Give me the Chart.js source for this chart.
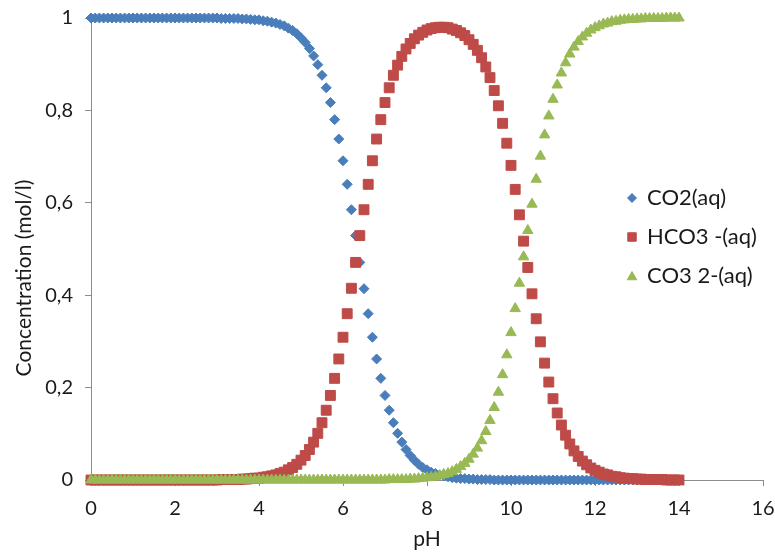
<!DOCTYPE html>
<html>
<head>
<meta charset="utf-8">
<script src="https://cdn.jsdelivr.net/npm/chart.js@4.4.1/dist/chart.umd.min.js"></script>
<style>
  html, body { margin: 0; padding: 0; background: #ffffff; }
  #wrap { width: 775px; height: 552px; }
</style>
</head>
<body>
<div id="wrap"><canvas id="c" width="775" height="552"></canvas></div>
<script>
// pH categories (x values)
const pH = [
  0.0,0.1,0.2,0.3,0.4,0.5,0.6,0.7,0.8,0.9,
  1.0,1.1,1.2,1.3,1.4,1.5,1.6,1.7,1.8,1.9,
  2.0,2.1,2.2,2.3,2.4,2.5,2.6,2.7,2.8,2.9,
  3.0,3.1,3.2,3.3,3.4,3.5,3.6,3.7,3.8,3.9,
  4.0,4.1,4.2,4.3,4.4,4.5,4.6,4.7,4.8,4.9,
  5.0,5.1,5.2,5.3,5.4,5.5,5.6,5.7,5.8,5.9,
  6.0,6.1,6.2,6.3,6.4,6.5,6.6,6.7,6.8,6.9,
  7.0,7.1,7.2,7.3,7.4,7.5,7.6,7.7,7.8,7.9,
  8.0,8.1,8.2,8.3,8.4,8.5,8.6,8.7,8.8,8.9,
  9.0,9.1,9.2,9.3,9.4,9.5,9.6,9.7,9.8,9.9,
  10.0,10.1,10.2,10.3,10.4,10.5,10.6,10.7,10.8,10.9,
  11.0,11.1,11.2,11.3,11.4,11.5,11.6,11.7,11.8,11.9,
  12.0,12.1,12.2,12.3,12.4,12.5,12.6,12.7,12.8,12.9,
  13.0,13.1,13.2,13.3,13.4,13.5,13.6,13.7,13.8,13.9,
  14.0
];

// CO2(aq) concentration
const co2 = [
  1,1,1,1,1,1,1,1,1,1,
  1,1,1,1,1,1,1,1,1,1,
  1,1,1,1,1,1,1,1,1,1,
  1,0.999,0.999,0.999,0.999,0.999,0.998,0.998,0.997,0.996,
  0.996,0.994,0.993,0.991,0.989,0.986,0.983,0.978,0.973,0.966,
  0.957,0.947,0.934,0.918,0.899,0.876,0.849,0.817,0.780,0.738,
  0.691,0.640,0.585,0.529,0.471,0.414,0.360,0.309,0.262,0.220,
  0.183,0.151,0.124,0.101,0.082,0.066,0.053,0.043,0.034,0.027,
  0.022,0.017,0.014,0.011,0.009,0.007,0.005,0.004,0.003,0.003,
  0.002,0.002,0.001,0.001,0.001,0.001,0,0,0,0,
  0,0,0,0,0,0,0,0,0,0,
  0,0,0,0,0,0,0,0,0,0,
  0,0,0,0,0,0,0,0,0,0,
  0,0,0,0,0,0,0,0,0,0,
  0
];

// HCO3 -(aq) concentration
const hco3 = [
  0,0,0,0,0,0,0,0,0,0,
  0,0,0,0,0,0,0,0,0,0,
  0,0,0,0,0,0,0,0,0,0,
  0,0.001,0.001,0.001,0.001,0.001,0.002,0.002,0.003,0.004,
  0.004,0.006,0.007,0.009,0.011,0.014,0.017,0.022,0.027,0.034,
  0.043,0.053,0.066,0.082,0.101,0.124,0.151,0.183,0.220,0.262,
  0.309,0.360,0.415,0.471,0.529,0.585,0.640,0.691,0.738,0.780,
  0.817,0.849,0.876,0.898,0.917,0.933,0.945,0.955,0.963,0.969,
  0.974,0.977,0.979,0.980,0.980,0.979,0.976,0.973,0.968,0.962,
  0.953,0.943,0.930,0.914,0.894,0.871,0.843,0.810,0.772,0.729,
  0.681,0.629,0.574,0.517,0.460,0.403,0.349,0.299,0.253,0.212,
  0.176,0.145,0.119,0.097,0.078,0.063,0.051,0.041,0.033,0.026,
  0.021,0.017,0.013,0.011,0.008,0.007,0.005,0.004,0.003,0.003,
  0.002,0.002,0.001,0.001,0.001,0.001,0.001,0,0,0,
  0
];

// CO3 2-(aq) concentration
const co3 = [
  0,0,0,0,0,0,0,0,0,0,
  0,0,0,0,0,0,0,0,0,0,
  0,0,0,0,0,0,0,0,0,0,
  0,0,0,0,0,0,0,0,0,0,
  0,0,0,0,0,0,0,0,0,0,
  0,0,0,0,0,0,0,0,0,0,
  0,0,0,0,0,0,0,0,0,0,
  0,0.001,0.001,0.001,0.001,0.001,0.002,0.002,0.003,0.004,
  0.005,0.006,0.007,0.009,0.012,0.014,0.018,0.023,0.029,0.036,
  0.045,0.056,0.069,0.085,0.105,0.129,0.157,0.190,0.228,0.271,
  0.319,0.371,0.426,0.483,0.540,0.597,0.651,0.701,0.747,0.788,
  0.824,0.855,0.881,0.903,0.922,0.937,0.949,0.959,0.967,0.974,
  0.979,0.983,0.987,0.989,0.992,0.993,0.995,0.996,0.997,0.997,
  0.998,0.998,0.999,0.999,0.999,0.999,0.999,1,1,1,
  1
];

const seriesNames = ['CO2(aq)', 'HCO3 -(aq)', 'CO3 2-(aq)'];
const xTitle = 'pH';
const yTitle = 'Concentration (mol/l)';

const FONT = 'Lato, "Liberation Sans", sans-serif';
const TEXT = '#1a1a1a';
const AXIS = '#8c8c8c';

const toPts = arr => pH.map((x, i) => ({ x: x, y: arr[i] }));

const datasets = [
  { label: seriesNames[0], data: toPts(co2), pointStyle: 'rectRot', pointRadius: 5, legendRadius: 4.5,
    backgroundColor: '#4A7EBB', borderColor: '#4A7EBB', order: 3 },
  { label: seriesNames[1], data: toPts(hco3), pointStyle: 'rect', pointRadius: 7, legendRadius: 6,
    backgroundColor: '#BE4B48', borderColor: '#BE4B48', order: 2 },
  { label: seriesNames[2], data: toPts(co3), pointStyle: 'triangle', pointRadius: 6, legendRadius: 5.5,
    backgroundColor: '#98B954', borderColor: '#98B954', order: 1 }
].map(d => Object.assign(d, { showLine: false, pointBorderWidth: 1, pointHoverRadius: d.pointRadius, clip: false }));

// legend drawn inside the plot area, plus rotated y-axis title
const legendPlugin = {
  id: 'legendPlugin',
  afterDraw(chart) {
    const ctx = chart.ctx;
    const rows = [198, 237, 276];
    chart.data.datasets.forEach((ds, i) => {
      ctx.save();
      ctx.fillStyle = ds.backgroundColor;
      ctx.strokeStyle = ds.borderColor;
      ctx.lineWidth = 1;
      Chart.helpers.drawPoint(ctx, { pointStyle: ds.pointStyle, radius: ds.legendRadius, borderWidth: 1, rotation: 0 },
        632, rows[i] + (ds.pointStyle === 'triangle' ? 1 : 0));
      ctx.restore();
      ctx.save();
      ctx.fillStyle = TEXT;
      ctx.font = '22px ' + FONT;
      ctx.textAlign = 'left';
      ctx.textBaseline = 'middle';
      ctx.fillText(ds.label, 647, rows[i]);
      ctx.restore();
    });
    ctx.save();
    ctx.fillStyle = TEXT;
    ctx.font = '21px ' + FONT;
    ctx.textAlign = 'center';
    ctx.textBaseline = 'middle';
    ctx.translate(24, 278);
    ctx.rotate(-Math.PI / 2);
    ctx.fillText(yTitle, 0, 0);
    ctx.restore();
  }
};

new Chart(document.getElementById('c'), {
  type: 'scatter',
  data: { datasets: datasets },
  plugins: [legendPlugin],
  options: {
    responsive: false,
    animation: false,
    events: [],
    layout: { padding: { top: 18, right: 12, left: 0, bottom: 0 } },
    plugins: {
      legend: { display: false },
      tooltip: { enabled: false },
      title: { display: false }
    },
    scales: {
      x: {
        type: 'linear',
        min: 0, max: 16,
        ticks: { stepSize: 2, color: TEXT, font: { family: FONT, size: 20 }, padding: 11 },
        grid: { display: true, drawOnChartArea: false, drawTicks: true, tickLength: 6, color: AXIS },
        border: { display: true, color: AXIS, width: 1 },
        title: { display: true, text: xTitle, color: TEXT, font: { family: FONT, size: 21 }, padding: { top: -2, bottom: 0 } },
        afterFit: s => { s.height = 72; s.paddingLeft = 0; s.paddingRight = 0; }
      },
      y: {
        type: 'linear',
        min: 0, max: 1,
        ticks: { stepSize: 0.2, color: TEXT, font: { family: FONT, size: 20 }, padding: 12,
          callback: v => String(Math.round(v * 10) / 10).replace('.', ',') },
        grid: { display: true, drawOnChartArea: false, drawTicks: true, tickLength: 6, color: AXIS },
        border: { display: true, color: AXIS, width: 1 },
        afterFit: s => { s.width = 91; s.paddingTop = 0; s.paddingBottom = 0; }
      }
    }
  }
});
</script>
</body>
</html>
